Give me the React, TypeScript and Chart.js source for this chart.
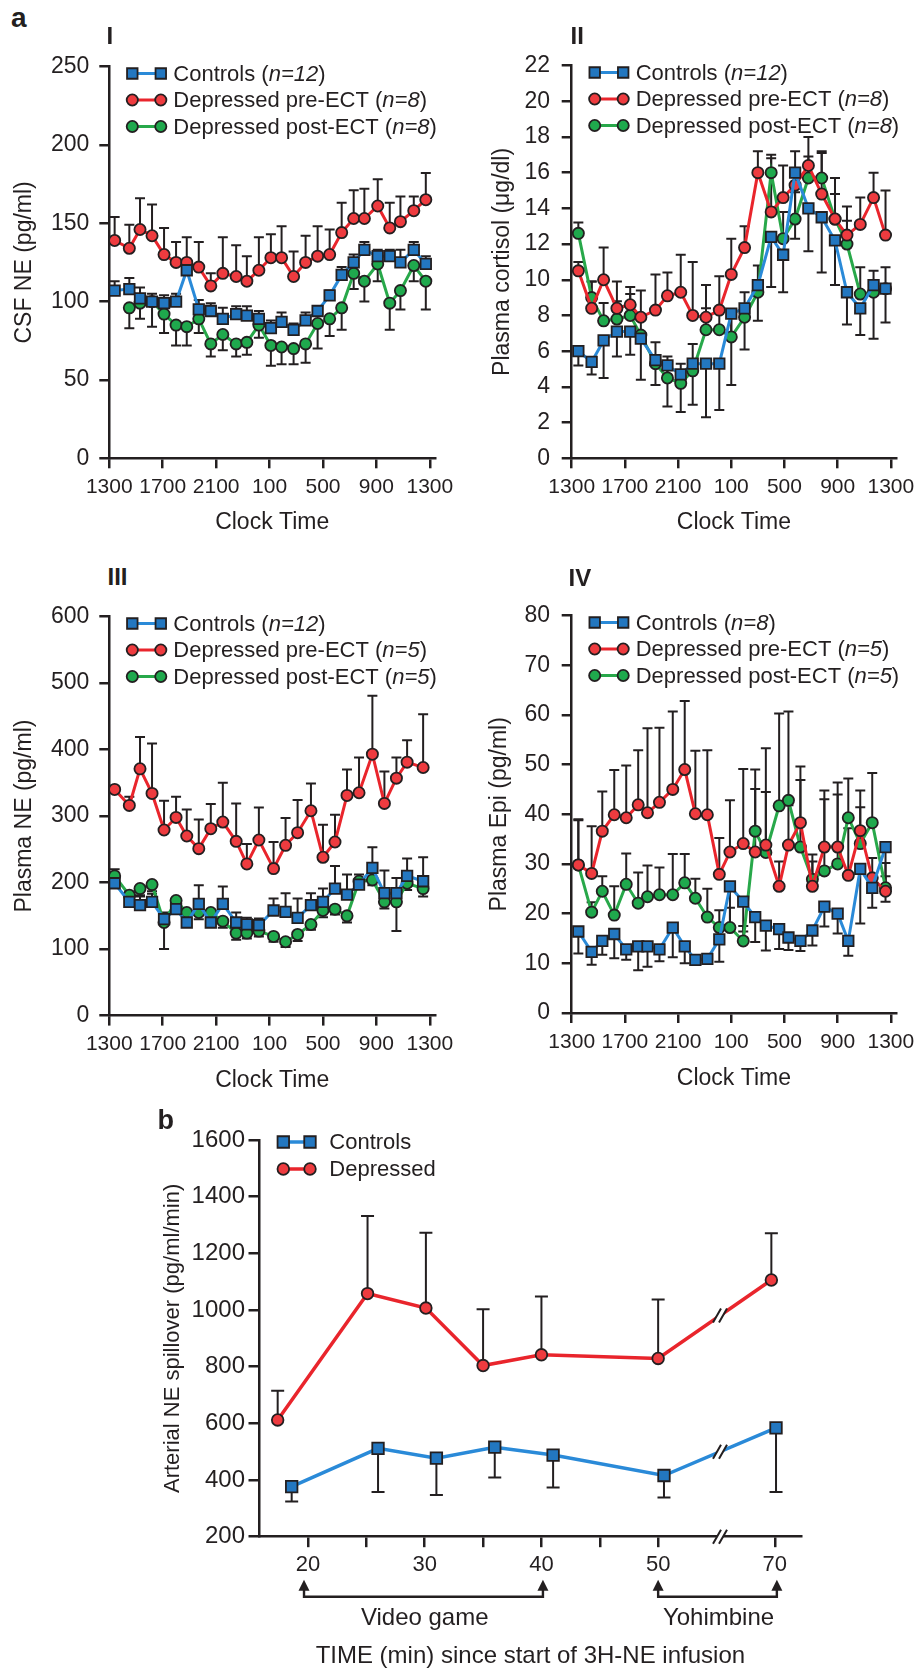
import React, { useEffect, useRef } from 'react';
import { Chart, registerables } from 'chart.js';

Chart.register(...registerables);

const FONT = "'Liberation Sans', Arial, Helvetica, sans-serif";
const INK = '#231f20';

const BLUE_FILL = '#2377c0';
const BLUE_LINE = '#2a8ad8';
const RED_FILL = '#ee3b3f';
const RED_LINE = '#e9252c';
const GREEN_FILL = '#1fa94d';
const GREEN_LINE = '#28a84a';

// ---------- shared clock axis ----------
const clockTickHours = [0, 4, 8, 12, 16, 20, 24];
const clockTickLabels = ['1300', '1700', '2100', '100', '500', '900', '1300'];

// ---------- Panel I: CSF NE ----------
const csfHours = [0.4, 1.5, 2.3, 3.2, 4.1, 5.0, 5.8, 6.7, 7.6, 8.5, 9.5, 10.3, 11.2, 12.1, 12.9, 13.8, 14.7, 15.6, 16.5, 17.4, 18.3, 19.1, 20.1, 21.0, 21.8, 22.8, 23.7];
const csfControls = [107, 108, 102, 100, 99, 100, 120, 95, 94, 89, 92, 91, 89, 83, 87, 82, 88, 94, 104, 117, 125, 133, 129, 129, 125, 133, 124];
const csfControlsErr = [6, 7, 7, 5, 5, 5, 6, 6, 5, 7, 5, 6, 5, 5, 6, 4, 5, 3, 3, 5, 5, 5, 4, 4, 8, 5, 5];
const csfPre = [139, 134, 146, 142, 130, 125, 125, 122, 110, 118, 116, 113, 120, 128, 128, 116, 125, 129, 130, 144, 153, 153, 161, 147, 151, 158, 165];
const csfPreErr = [15, 15, 20, 20, 17, 13, 16, 16, 8, 23, 20, 16, 21, 15, 20, 16, 17, 19, 16, 19, 18, 19, 17, 16, 16, 9, 17];
const csfPost = [null, 96, 99, 100, 92, 85, 84, 89, 73, 79, 73, 74, 85, 72, 71, 70, 73, 86, 89, 96, 118, 113, 124, 99, 107, 123, 113];
const csfPostErr = [null, 13, 10, 16, 12, 13, 12, 9, 8, 10, 8, 8, 8, 13, 11, 10, 12, 16, 11, 14, 10, 13, 11, 17, 12, 10, 18];
const csfLegend = [['Controls (', 'n=12', ')'], ['Depressed pre-ECT (', 'n=8', ')'], ['Depressed post-ECT (', 'n=8', ')']];

// ---------- Panel II: plasma cortisol ----------
const cortHours = [0.5, 1.5, 2.4, 3.4, 4.4, 5.2, 6.3, 7.2, 8.2, 9.1, 10.1, 11.1, 12.0, 13.0, 14.0, 15.0, 15.9, 16.8, 17.8, 18.8, 19.8, 20.7, 21.7, 22.7, 23.6];
const cortControls = [6.0, 5.4, 6.6, 7.1, 7.1, 6.7, 5.5, 5.2, 4.7, 5.3, 5.3, 5.3, 8.1, 8.4, 9.7, 12.4, 11.4, 16.0, 14.0, 13.5, 12.2, 9.3, 8.4, 9.7, 9.5];
const cortControlsErr = [0.8, 0.7, 2.1, 1.4, 1.3, 2.3, 1.4, 2.3, 2.1, 2.3, 3.0, 2.6, 4.0, 2.3, 2.0, 2.8, 2.1, 3.7, 2.4, 3.1, 2.5, 1.8, 1.5, 3.0, 1.9];
const cortPre = [10.5, 8.4, 10.0, 8.4, 8.6, 7.9, 8.3, 9.1, 9.3, 8.0, 7.9, 8.3, 10.3, 11.8, 16.0, 13.8, 14.6, 15.3, 16.4, 14.8, 13.4, 12.5, 13.1, 14.6, 12.5];
const cortPreErr = [0.5, 1.5, 1.8, 1.5, 1.0, 1.5, 2.0, 1.3, 2.1, 3.0, 1.8, 1.9, 2.0, 1.2, 1.2, 3.2, 1.8, 1.9, 1.6, 2.3, 2.3, 1.6, 1.5, 1.4, 2.5];
const cortPost = [12.6, 9.0, 7.7, 7.8, 8.0, 6.9, 5.3, 4.5, 4.2, 4.9, 7.2, 7.2, 6.8, 7.9, 9.3, 16.0, 12.3, 13.4, 15.7, 15.7, 13.4, 12.0, 9.2, 9.3, 9.5];
const cortPostErr = [0.6, 0.9, 1.0, 1.0, 1.2, 1.0, 1.2, 1.2, 1.1, 1.5, 1.2, 1.0, 1.5, 1.4, 1.5, 0.8, 1.5, 1.5, 1.2, 1.5, 1.4, 1.3, 1.5, 1.2, 1.2];
const cortLegend = [['Controls (', 'n=12', ')'], ['Depressed pre-ECT (', 'n=8', ')'], ['Depressed post-ECT (', 'n=8', ')']];

// ---------- Panel III: plasma NE ----------
const neHours = [0.4, 1.5, 2.3, 3.2, 4.1, 5.0, 5.8, 6.7, 7.6, 8.5, 9.5, 10.3, 11.2, 12.3, 13.2, 14.1, 15.1, 16.0, 16.9, 17.8, 18.7, 19.7, 20.6, 21.5, 22.3, 23.5];
const neControls = [199, 171, 166, 171, 145, 160, 140, 168, 140, 168, 140, 137, 136, 158, 156, 147, 166, 171, 191, 182, 197, 222, 184, 184, 210, 202];
const neControlsErr = [21, 15, 15, 12, 10, 15, 12, 28, 12, 26, 15, 10, 10, 18, 28, 29, 18, 20, 34, 30, 15, 31, 34, 23, 26, 36];
const nePre = [340, 316, 371, 334, 279, 298, 270, 251, 281, 291, 262, 228, 264, 221, 256, 275, 308, 238, 261, 331, 335, 393, 319, 357, 381, 373];
const nePreErr = [4, 13, 48, 75, 44, 31, 40, 44, 37, 59, 57, 30, 49, 40, 41, 49, 41, 49, 41, 39, 53, 88, 48, 31, 33, 80];
const nePost = [210, 181, 191, 197, 140, 173, 155, 155, 155, 142, 124, 124, 127, 119, 111, 122, 137, 158, 160, 150, 202, 204, 171, 171, 199, 191];
const nePostErr = [10, 15, 12, 10, 40, 15, 15, 10, 15, 10, 10, 8, 8, 8, 8, 10, 8, 10, 8, 10, 8, 8, 10, 44, 10, 12];
const neLegend = [['Controls (', 'n=12', ')'], ['Depressed pre-ECT (', 'n=5', ')'], ['Depressed post-ECT (', 'n=5', ')']];

// ---------- Panel IV: plasma Epi ----------
const epiHours = [0.5, 1.5, 2.3, 3.2, 4.1, 5.0, 5.7, 6.6, 7.6, 8.5, 9.3, 10.2, 11.1, 11.9, 12.9, 13.8, 14.6, 15.6, 16.3, 17.2, 18.1, 19.0, 20.0, 20.8, 21.7, 22.6, 23.6];
const epiControls = [16.4, 12.3, 14.5, 15.9, 12.8, 13.4, 13.4, 12.8, 17.2, 13.4, 10.7, 10.9, 14.8, 25.5, 22.4, 19.3, 17.6, 16.9, 15.2, 14.5, 16.6, 21.4, 20.0, 14.5, 29.0, 25.2, 33.4];
const epiControlsErr = [4.4, 2.6, 2.8, 4.9, 2.1, 4.8, 4.1, 2.4, 6.0, 3.4, 1.0, 1.0, 4.5, 8.0, 6.0, 5.0, 5.0, 4.0, 2.5, 2.0, 3.0, 4.0, 4.0, 3.0, 11.0, 4.0, 11.0];
const epiPre = [29.8, 28.1, 36.6, 39.9, 39.3, 41.9, 40.3, 42.4, 45.0, 49.0, 40.1, 39.9, 27.9, 32.4, 34.1, 32.4, 33.8, 25.5, 33.8, 38.3, 25.5, 33.4, 33.4, 27.7, 36.7, 27.2, 24.5];
const epiPreErr = [9, 9.5, 8, 9, 10.5, 11, 17, 15, 15.7, 13.8, 12.7, 13, 7.3, 10.4, 15, 12.7, 10.7, 5, 8, 8.6, 5, 11.4, 13, 9.5, 4.7, 4, 3];
const epiPost = [29.8, 20.3, 24.5, 19.7, 25.9, 22.1, 23.4, 23.8, 23.8, 26.2, 23.1, 19.3, 17.2, 17.2, 14.5, 36.6, 32.3, 41.7, 42.8, 33.4, 26.9, 28.6, 30.0, 39.3, 34.1, 38.3, 25.2];
const epiPostErr = [9.2, 2, 3, 5.8, 6.2, 6.2, 6.3, 5.5, 8.2, 5.8, 3.9, 5.7, 3.5, 4, 3, 12.4, 21, 18.6, 17.9, 16.2, 5, 14.4, 14, 7.9, 10.7, 10, 5];
const epiLegend = [['Controls (', 'n=8', ')'], ['Depressed pre-ECT (', 'n=5', ')'], ['Depressed post-ECT (', 'n=5', ')']];

// ---------- Panel b: arterial NE spillover ----------
const spillTickMinutes = [20, 25, 30, 35, 40, 45, 50, 70];
const spillTickLabels = ['20', '', '30', '', '40', '', '50', '70'];
const spillControlsMin = [18.6, 26, 31, 36, 41, 51, 70.2];
const spillControls = [377, 512, 477, 516, 488, 416, 584];
const spillControlsErr = [53, 154, 130, 107, 114, 78, 226];
const spillDepMin = [17.4, 25.1, 30.1, 35, 40, 50, 69.4];
const spillDep = [612, 1058, 1007, 804, 842, 829, 1106];
const spillDepErr = [103, 274, 266, 199, 206, 208, 165];
const spillLegend = [['Controls'], ['Depressed']];
const BREAK_MINUTE = 60.6; // axis break between 50 and 70 min

// broken axis: minutes beyond 50 are compressed by half
const mapMinutes = (t) => (t > 50 ? 50 + (t - 50) / 2 : t);

// ---------- drawing helpers ----------
function drawMarker(ctx, style, x, y, fill, sq, r) {
  ctx.save();
  ctx.fillStyle = fill;
  ctx.strokeStyle = INK;
  ctx.lineWidth = 1.8;
  ctx.beginPath();
  if (style === 'rect') ctx.rect(x - sq / 2, y - sq / 2, sq, sq);
  else ctx.arc(x, y, r, 0, Math.PI * 2);
  ctx.fill();
  ctx.stroke();
  ctx.restore();
}

const errorBarPlugin = {
  id: 'errbars',
  beforeDatasetsDraw(chart) {
    const ctx = chart.ctx;
    const ys = chart.scales.y;
    chart.data.datasets.forEach((ds, i) => {
      const meta = chart.getDatasetMeta(i);
      const cap = ds.capHalf || 5;
      ds.data.forEach((d, j) => {
        if (d.e == null || !d.e) return;
        const el = meta.data[j];
        if (!el) return;
        const y1 = ys.getPixelForValue(d.y + ds.errDir * d.e);
        ctx.save();
        ctx.strokeStyle = INK;
        ctx.lineWidth = 2;
        ctx.beginPath();
        ctx.moveTo(el.x, el.y);
        ctx.lineTo(el.x, y1);
        ctx.moveTo(el.x - cap, y1);
        ctx.lineTo(el.x + cap, y1);
        ctx.stroke();
        ctx.restore();
      });
    });
  },
};

function makeLegendPlugin(p) {
  return {
    id: 'customLegend',
    afterDraw(chart) {
      const ctx = chart.ctx;
      const { left, top } = chart.chartArea;
      const L = p.legend;
      p.series.forEach((s, k) => {
        const y = top + L.dy + k * L.row;
        const x1 = left + L.m1;
        const x2 = left + L.m2;
        ctx.save();
        ctx.strokeStyle = s.line;
        ctx.lineWidth = p.lineW;
        ctx.beginPath();
        ctx.moveTo(x1, y);
        ctx.lineTo(x2, y);
        ctx.stroke();
        ctx.restore();
        drawMarker(ctx, s.style, x1, y, s.fill, p.markerSq, p.markerR);
        drawMarker(ctx, s.style, x2, y, s.fill, p.markerSq, p.markerR);
        let tx = left + L.tx;
        ctx.save();
        ctx.fillStyle = INK;
        ctx.textBaseline = 'middle';
        ctx.textAlign = 'left';
        s.legend.forEach((t, idx) => {
          ctx.font = `${idx === 1 ? 'italic ' : ''}${L.fs}px ${FONT}`;
          ctx.fillText(t, tx, y + 1);
          tx += ctx.measureText(t).width;
        });
        ctx.restore();
      });
    },
  };
}

function drawBreak(ctx, cx, cy) {
  const dx = 4, dy = 7, gap = 3;
  ctx.save();
  ctx.fillStyle = '#ffffff';
  ctx.beginPath();
  ctx.moveTo(cx - gap - dx, cy + dy);
  ctx.lineTo(cx - gap + dx, cy - dy);
  ctx.lineTo(cx + gap + dx, cy - dy);
  ctx.lineTo(cx + gap - dx, cy + dy);
  ctx.closePath();
  ctx.fill();
  ctx.strokeStyle = INK;
  ctx.lineWidth = 2;
  ctx.beginPath();
  ctx.moveTo(cx - gap - dx, cy + dy);
  ctx.lineTo(cx - gap + dx, cy - dy);
  ctx.moveTo(cx + gap - dx, cy + dy);
  ctx.lineTo(cx + gap + dx, cy - dy);
  ctx.stroke();
  ctx.restore();
}

function drawBracket(ctx, xl, xr, yTip, yBase) {
  ctx.save();
  ctx.strokeStyle = INK;
  ctx.fillStyle = INK;
  ctx.lineWidth = 2.4;
  ctx.beginPath();
  ctx.moveTo(xl, yTip + 8);
  ctx.lineTo(xl, yBase);
  ctx.lineTo(xr, yBase);
  ctx.lineTo(xr, yTip + 8);
  ctx.stroke();
  [xl, xr].forEach((x) => {
    ctx.beginPath();
    ctx.moveTo(x, yTip);
    ctx.lineTo(x - 5.5, yTip + 11);
    ctx.lineTo(x + 5.5, yTip + 11);
    ctx.closePath();
    ctx.fill();
  });
  ctx.restore();
}

const spillExtrasPlugin = {
  id: 'spillExtras',
  afterDatasetsDraw(chart) {
    const ctx = chart.ctx;
    const xs = chart.scales.x;
    const bx = xs.getPixelForValue(mapMinutes(BREAK_MINUTE));
    chart.data.datasets.forEach((ds, i) => {
      const pts = chart.getDatasetMeta(i).data;
      for (let k = 0; k < pts.length - 1; k++) {
        const a = pts[k], b = pts[k + 1];
        if (a.x <= bx && b.x >= bx) {
          const t = (bx - a.x) / (b.x - a.x);
          drawBreak(ctx, bx, a.y + t * (b.y - a.y));
        }
      }
    });
  },
  afterDraw(chart) {
    const ctx = chart.ctx;
    const xs = chart.scales.x;
    const { bottom } = chart.chartArea;
    drawBreak(ctx, xs.getPixelForValue(mapMinutes(BREAK_MINUTE)), bottom);
    const yTip = bottom + 43;
    const yBase = bottom + 60;
    drawBracket(ctx, xs.getPixelForValue(20) - 4, xs.getPixelForValue(40) + 1.5, yTip, yBase);
    drawBracket(ctx, xs.getPixelForValue(50), xs.getPixelForValue(mapMinutes(70)) + 2, yTip, yBase);
    ctx.save();
    ctx.fillStyle = INK;
    ctx.font = `24px ${FONT}`;
    ctx.textAlign = 'center';
    ctx.textBaseline = 'middle';
    ctx.fillText('Video game', xs.getPixelForValue(30), bottom + 82);
    ctx.fillText('Yohimbine', (xs.getPixelForValue(50) + xs.getPixelForValue(mapMinutes(70))) / 2 + 2, bottom + 82);
    ctx.restore();
  },
};

// ---------- chart config ----------
function buildConfig(p) {
  const cx = p.canvas.left;
  const cy = p.canvas.top;
  const aL = p.area.left - cx;
  const aT = p.area.top - cy;
  const aR = p.area.right - cx;
  const aB = p.area.bottom - cy;
  const xH = p.canvas.height - aB;
  const tLH = p.titleSize * 1.2;
  const yTLH = (p.yTitleSize || p.titleSize) * 1.2;
  const yTitlePad = p.yTitleX - cx - yTLH / 2;
  const xTitlePad = cy + p.canvas.height - p.xTitleY - tLH / 2;
  const mapX = p.mapX || ((v) => v);

  return {
    type: 'line',
    data: {
      datasets: p.series.map((s) => ({
        label: s.legend.join(''),
        data: s.times
          .map((t, i) => ({ x: mapX(t), y: s.values[i], e: s.errs[i] }))
          .filter((d) => d.y != null),
        errDir: s.dir,
        capHalf: p.capHalf,
        borderColor: s.line,
        backgroundColor: s.fill,
        borderWidth: p.lineW,
        pointStyle: s.style,
        pointRadius: s.style === 'rect' ? p.markerSq / Math.SQRT2 : p.markerR,
        pointHoverRadius: s.style === 'rect' ? p.markerSq / Math.SQRT2 : p.markerR,
        pointBackgroundColor: s.fill,
        pointBorderColor: INK,
        pointBorderWidth: 1.8,
        tension: 0,
        fill: false,
        clip: false,
      })),
    },
    options: {
      responsive: false,
      animation: false,
      devicePixelRatio: 1,
      events: [],
      layout: { padding: { left: 0, top: aT, right: p.canvas.width - aR, bottom: 0 } },
      plugins: { legend: { display: false }, tooltip: { enabled: false } },
      scales: {
        x: {
          type: 'linear',
          min: p.xMin,
          max: p.xMax,
          afterBuildTicks: (scale) => {
            scale.ticks = p.xTicks.map((v) => ({ value: mapX(v) }));
          },
          afterFit: (scale) => {
            scale.height = xH;
          },
          ticks: {
            autoSkip: false,
            maxRotation: 0,
            minRotation: 0,
            padding: p.xTickPad,
            color: INK,
            font: { family: FONT, size: p.xTickSize },
            callback: (v) => {
              const i = p.xTicks.findIndex((t) => Math.abs(mapX(t) - v) < 1e-6);
              return i >= 0 ? p.xLabels[i] : '';
            },
          },
          grid: { drawOnChartArea: false, drawTicks: true, tickLength: p.tickLen, color: INK, lineWidth: p.axisW },
          border: { display: true, color: INK, width: p.axisW },
          title: {
            display: true,
            text: p.xTitle,
            color: INK,
            font: { family: FONT, size: p.titleSize },
            padding: { top: 0, bottom: xTitlePad },
          },
        },
        y: {
          type: 'linear',
          min: p.yMin,
          max: p.yMax,
          afterFit: (scale) => {
            scale.width = aL;
          },
          ticks: {
            stepSize: p.yStep,
            autoSkip: false,
            padding: p.yTickPad,
            color: INK,
            font: { family: FONT, size: p.yTickSize },
            callback: (v) => String(v),
          },
          grid: { drawOnChartArea: false, drawTicks: true, tickLength: p.tickLen, color: INK, lineWidth: p.axisW },
          border: { display: true, color: INK, width: p.axisW },
          title: {
            display: true,
            text: p.yTitle,
            color: INK,
            font: { family: FONT, size: p.yTitleSize || p.titleSize },
            padding: { top: yTitlePad, bottom: 0 },
          },
        },
      },
    },
    plugins: [errorBarPlugin, makeLegendPlugin(p)].concat(p.extras ? [p.extras] : []),
  };
}

const aCommon = {
  xMin: 0,
  xMax: 24.4,
  xTicks: clockTickHours,
  xLabels: clockTickLabels,
  xTitle: 'Clock Time',
  xTickSize: 21,
  yTickSize: 23,
  titleSize: 23,
  tickLen: 10,
  xTickPad: 6.5,
  yTickPad: 10,
  axisW: 2.5,
  lineW: 3,
  markerSq: 10.5,
  markerR: 5.6,
  capHalf: 5,
  legend: { m1: 23, m2: 51.5, tx: 64, dy: 7, row: 26.5, fs: 22 },
};

function triple(times, c, ce, cdir, pre, pe, post, po, podir, legend) {
  return [
    { times, values: c, errs: ce, dir: cdir, fill: BLUE_FILL, line: BLUE_LINE, style: 'rect', legend: legend[0] },
    { times, values: pre, errs: pe, dir: 1, fill: RED_FILL, line: RED_LINE, style: 'circle', legend: legend[1] },
    { times, values: post, errs: po, dir: podir, fill: GREEN_FILL, line: GREEN_LINE, style: 'circle', legend: legend[2] },
  ];
}

const panels = [
  {
    ...aCommon,
    canvas: { left: 0, top: 40, width: 460, height: 510 },
    area: { left: 109.3, top: 66.5, right: 439.7, bottom: 458.3 },
    xTitleY: 523,
    yTitleX: 25,
    yMin: 0, yMax: 250, yStep: 50,
    yTitle: 'CSF NE (pg/ml)',
    series: triple(csfHours, csfControls, csfControlsErr, 1, csfPre, csfPreErr, csfPost, csfPostErr, -1, csfLegend),
  },
  {
    ...aCommon,
    canvas: { left: 460, top: 40, width: 461, height: 510 },
    area: { left: 571.7, top: 62, right: 902.8, bottom: 458.3 },
    xTitleY: 523,
    yTitleX: 503,
    yTickPad: 11.7,
    yMin: 0, yMax: 22, yStep: 2,
    yTitle: 'Plasma cortisol (\u03bcg/dl)',
    series: triple(cortHours, cortControls, cortControlsErr, -1, cortPre, cortPreErr, cortPost, cortPostErr, 1, cortLegend),
  },
  {
    ...aCommon,
    canvas: { left: 0, top: 590, width: 460, height: 510 },
    area: { left: 109.3, top: 616.5, right: 439.7, bottom: 1015.6 },
    xTitleY: 1080.6,
    yTitleX: 25,
    yMin: 0, yMax: 600, yStep: 100,
    yTitle: 'Plasma NE (pg/ml)',
    series: triple(neHours, neControls, neControlsErr, 1, nePre, nePreErr, nePost, nePostErr, -1, neLegend),
  },
  {
    ...aCommon,
    canvas: { left: 460, top: 590, width: 461, height: 510 },
    area: { left: 571.7, top: 613.5, right: 902.8, bottom: 1013 },
    xTitleY: 1079,
    yTitleX: 500,
    yTickPad: 11.7,
    yMin: 0, yMax: 80, yStep: 10,
    yTitle: 'Plasma Epi (pg/ml)',
    series: triple(epiHours, epiControls, epiControlsErr, -1, epiPre, epiPreErr, epiPost, epiPostErr, 1, epiLegend),
  },
  {
    canvas: { left: 130, top: 1085, width: 700, height: 588 },
    area: { left: 259, top: 1140, right: 801.7, bottom: 1536.7 },
    xMin: 15.8,
    xMax: 62.3,
    mapX: mapMinutes,
    xTicks: spillTickMinutes,
    xLabels: spillTickLabels,
    xTitle: 'TIME (min) since start of 3H-NE infusion',
    yTitle: 'Arterial NE spillover (pg/ml/min)',
    xTitleY: 1656.7,
    yTitleX: 173,
    yMin: 200, yMax: 1600, yStep: 200,
    xTickSize: 22,
    yTickSize: 24,
    titleSize: 24,
    yTitleSize: 22,
    tickLen: 10.5,
    xTickPad: 5,
    yTickPad: 3.5,
    axisW: 2.5,
    lineW: 3.5,
    markerSq: 11.5,
    markerR: 5.8,
    capHalf: 6.5,
    legend: { m1: 24.3, m2: 51, tx: 70.3, dy: 2, row: 27, fs: 22 },
    series: [
      { times: spillControlsMin, values: spillControls, errs: spillControlsErr, dir: -1, fill: BLUE_FILL, line: BLUE_LINE, style: 'rect', legend: spillLegend[0] },
      { times: spillDepMin, values: spillDep, errs: spillDepErr, dir: 1, fill: RED_FILL, line: RED_LINE, style: 'circle', legend: spillLegend[1] },
    ],
    extras: spillExtrasPlugin,
  },
];

const panelLetters = [
  { text: 'a', x: 11, y: 18, size: 28 },
  { text: 'I', x: 106.5, y: 35.5, size: 24 },
  { text: 'II', x: 570.5, y: 35.5, size: 24 },
  { text: 'III', x: 107.5, y: 577, size: 24 },
  { text: 'IV', x: 568.5, y: 578, size: 24 },
  { text: 'b', x: 157.5, y: 1120, size: 27 },
];

function PanelChart({ spec }) {
  const ref = useRef(null);
  useEffect(() => {
    const chart = new Chart(ref.current, buildConfig(spec));
    return () => chart.destroy();
  }, [spec]);
  return (
    <canvas
      ref={ref}
      width={spec.canvas.width}
      height={spec.canvas.height}
      style={{
        position: 'absolute',
        left: spec.canvas.left,
        top: spec.canvas.top,
        width: spec.canvas.width,
        height: spec.canvas.height,
      }}
    />
  );
}

export default function App() {
  return (
    <div
      style={{
        position: 'absolute',
        left: 0,
        top: 0,
        width: 921,
        height: 1673,
        background: '#ffffff',
        overflow: 'hidden',
        fontFamily: FONT,
      }}
    >
      {panels.map((p, i) => (
        <PanelChart key={i} spec={p} />
      ))}
      {panelLetters.map((l, i) => (
        <div
          key={'l' + i}
          style={{
            position: 'absolute',
            left: l.x,
            top: l.y,
            transform: 'translateY(-50%)',
            fontSize: l.size,
            fontWeight: 'bold',
            lineHeight: 1,
            color: INK,
            fontFamily: FONT,
          }}
        >
          {l.text}
        </div>
      ))}
    </div>
  );
}
